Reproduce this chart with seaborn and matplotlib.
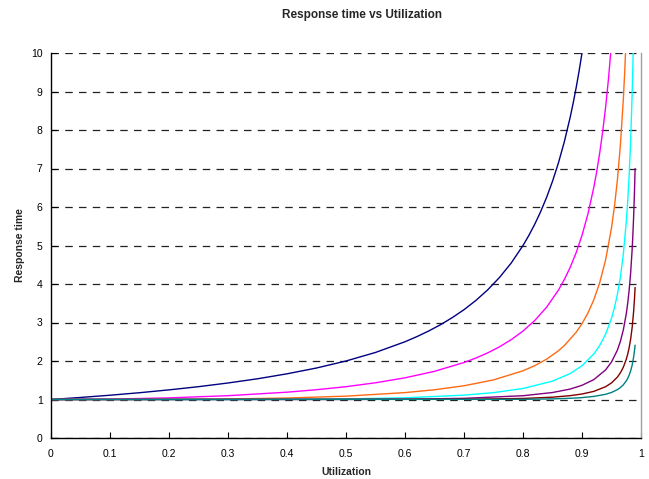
import matplotlib
matplotlib.use("Agg")
from matplotlib import pyplot as plt
import pandas as pd
import seaborn as sns

# response time vs utilization for 1..64 servers
servers = ["1", "2", "4", "8", "16", "32", "64"]
colors = ["#000080", "#ff00ff", "#ff6a13", "#00ffff", "#800080", "#800000", "#008080"]

util_1 = [0, 0.05, 0.1, 0.15, 0.2, 0.25, 0.3, 0.35, 0.4, 0.45, 0.5, 0.55, 0.6, 0.62, 0.64,
          0.66, 0.68, 0.7, 0.72, 0.74, 0.76, 0.78, 0.8, 0.81, 0.82, 0.83, 0.84, 0.85, 0.86,
          0.87, 0.88, 0.885, 0.89, 0.895, 0.9]
resp_1 = [1.0, 1.053, 1.111, 1.176, 1.25, 1.333, 1.429, 1.538, 1.667, 1.818, 2.0, 2.222,
          2.5, 2.632, 2.778, 2.941, 3.125, 3.333, 3.571, 3.846, 4.167, 4.545, 5.0, 5.263,
          5.556, 5.882, 6.25, 6.667, 7.143, 7.692, 8.333, 8.696, 9.091, 9.524, 10.0]

util_2 = [0, 0.1, 0.2, 0.3, 0.4, 0.45, 0.5, 0.55, 0.6, 0.65, 0.7, 0.72, 0.74, 0.76, 0.78,
          0.8, 0.82, 0.84, 0.86, 0.87, 0.88, 0.89, 0.9, 0.91, 0.92, 0.925, 0.93, 0.935,
          0.94, 0.945, 0.95]
resp_2 = [1.0, 1.010, 1.042, 1.099, 1.190, 1.254, 1.333, 1.434, 1.563, 1.732, 1.961, 2.076,
          2.210, 2.367, 2.554, 2.778, 3.053, 3.397, 3.840, 4.114, 4.433, 4.810, 5.263, 5.817,
          6.510, 6.926, 7.402, 7.951, 8.591, 9.348, 10.256]

util_4 = [0, 0.1, 0.2, 0.3, 0.4, 0.5, 0.6, 0.65, 0.7, 0.75, 0.8, 0.82, 0.84, 0.86, 0.87,
          0.89, 0.9, 0.91, 0.92, 0.93, 0.94, 0.95, 0.955, 0.96, 0.965, 0.97, 0.9725, 0.975]
resp_4 = [1.0, 1.0002, 1.003, 1.013, 1.038, 1.087, 1.179, 1.253, 1.357, 1.509, 1.746, 1.879,
          2.047, 2.265, 2.400, 2.745, 2.969, 3.245, 3.589, 4.033, 4.626, 5.457, 6.012, 6.705,
          7.596, 8.786, 9.543, 10.451]

util_8 = [0, 0.3, 0.4, 0.5, 0.6, 0.7, 0.75, 0.8, 0.85, 0.88, 0.9, 0.92, 0.93, 0.94, 0.95,
          0.955, 0.96, 0.965, 0.97, 0.975, 0.9775, 0.98, 0.9825, 0.985, 0.986, 0.987]
resp_8 = [1.0, 1.0005, 1.004, 1.015, 1.044, 1.113, 1.178, 1.286, 1.477, 1.675, 1.877, 2.183,
          2.403, 2.697, 3.110, 3.387, 3.732, 4.177, 4.771, 5.602, 6.157, 6.851, 7.743, 8.932,
          9.527, 10.214]

util_16 = [0, 0.5, 0.6, 0.7, 0.8, 0.85, 0.88, 0.9, 0.92, 0.94, 0.95, 0.96, 0.965, 0.97,
           0.975, 0.9775, 0.98, 0.9825, 0.985, 0.986, 0.9875, 0.989, 0.99]
resp_16 = [1.0, 1.002, 1.008, 1.030, 1.098, 1.181, 1.271, 1.369, 1.516, 1.769, 1.974, 2.284,
           2.507, 2.805, 3.222, 3.502, 3.851, 4.301, 4.900, 5.200, 5.740, 6.429, 7.0]

util_32 = [0, 0.7, 0.8, 0.85, 0.88, 0.9, 0.92, 0.94, 0.95, 0.96, 0.965, 0.97, 0.975, 0.9775,
           0.98, 0.9825, 0.985, 0.9875, 0.989, 0.99]
resp_32 = [1.0, 1.006, 1.027, 1.060, 1.100, 1.143, 1.211, 1.332, 1.431, 1.582, 1.691, 1.837,
           2.043, 2.180, 2.352, 2.574, 2.870, 3.286, 3.626, 3.909]

util_64 = [0, 0.8, 0.85, 0.88, 0.9, 0.92, 0.94, 0.95, 0.96, 0.965, 0.97, 0.975, 0.9775,
           0.98, 0.9825, 0.985, 0.9875, 0.989, 0.99]
resp_64 = [1.0, 1.004, 1.016, 1.031, 1.049, 1.080, 1.135, 1.183, 1.256, 1.309, 1.381, 1.482,
           1.550, 1.636, 1.746, 1.893, 2.100, 2.270, 2.411]

x_ticks = [0, 0.1, 0.2, 0.3, 0.4, 0.5, 0.6, 0.7, 0.8, 0.9, 1]
x_labels = ["0", "0.1", "0.2", "0.3", "0.4", "0.5", "0.6", "0.7", "0.8", "0.9", "1"]
y_ticks = list(range(0, 11))

utils = [util_1, util_2, util_4, util_8, util_16, util_32, util_64]
resps = [resp_1, resp_2, resp_4, resp_8, resp_16, resp_32, resp_64]
frames = []
for s, u, r in zip(servers, utils, resps):
    frames.append(pd.DataFrame({"servers": s, "utilization": u, "response": r}))
data = pd.concat(frames, ignore_index=True)

sns.set_style("white")
plt.rcParams['font.family'] = ['Liberation Sans', 'DejaVu Sans']

fig, ax = plt.subplots(figsize=(6.49, 4.79), dpi=100)
fig.subplots_adjust(left=51 / 649, right=641 / 649, bottom=41 / 479, top=426 / 479)

ax.yaxis.grid(True, linestyle=(0, (6, 5)), color='#222222', linewidth=0.9)
ax.set_axisbelow(True)

sns.lineplot(data=data, x="utilization", y="response", hue="servers",
             palette=dict(zip(servers, colors)), hue_order=servers,
             estimator=None, sort=False, linewidth=1.0, legend=False, ax=ax)

ax.set_xlim(0, 1)
ax.set_ylim(0, 10)
ax.set_xticks(x_ticks)
ax.set_xticklabels(x_labels)
ax.set_yticks(y_ticks)
ax.tick_params(axis='both', direction='in', length=4, width=0.8, labelsize=7.5,
               colors='black', bottom=True, left=True)
ax.tick_params(axis='x', pad=8)
ax.tick_params(axis='y', pad=6)

for side in ['left', 'bottom']:
    ax.spines[side].set_color('black')
    ax.spines[side].set_linewidth(1.0)
ax.spines['top'].set_visible(False)
ax.spines['right'].set_color('#a0a0a0')
ax.spines['right'].set_linewidth(1.0)

ax.set_xlabel('Utilization', fontsize=7.5, fontweight='bold', labelpad=6)
ax.set_ylabel('Response time', fontsize=7.5, fontweight='bold', labelpad=4)
fig.text(362 / 649, 1 - 15 / 479, 'Response time vs Utilization', fontsize=8.5,
         fontweight='bold', ha='center', va='center')

plt.savefig("out.png", dpi=100)
